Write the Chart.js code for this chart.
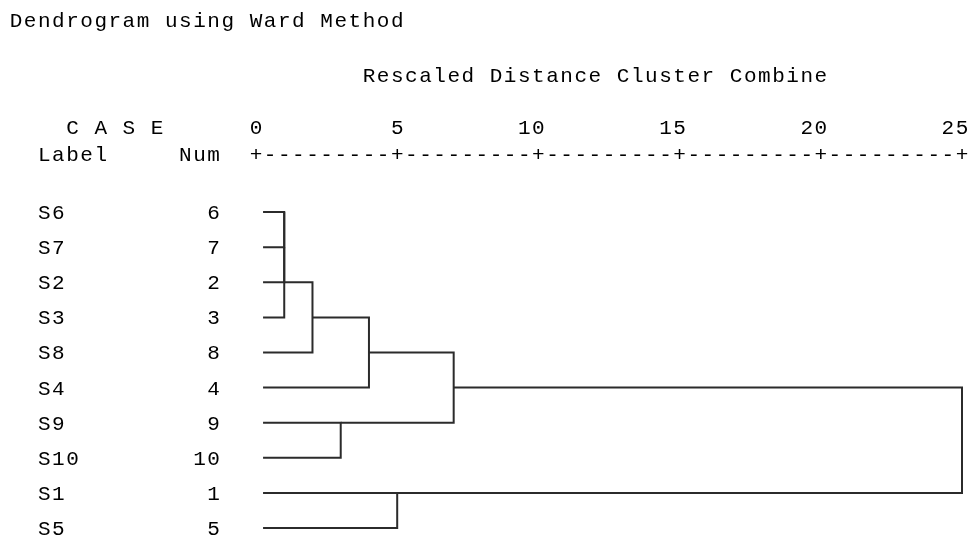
<!DOCTYPE html>
<html>
<head>
<meta charset="utf-8">
<script src="https://cdn.jsdelivr.net/npm/chart.js@4.4.1/dist/chart.umd.min.js"></script>
<style>
  html, body { margin: 0; padding: 0; background: #ffffff; }
  #wrap { width: 970px; height: 537px; }
</style>
</head>
<body>
<div id="wrap"><canvas id="dendro" width="970" height="537"></canvas></div>
<script>
// ---- data ---------------------------------------------------------------
const chartTitle = 'Dendrogram using Ward Method';
const axisTitle = 'Rescaled Distance Cluster Combine';
const caseHeader = 'C A S E';
const labelHeader = 'Label';
const numHeader = 'Num';

// cases in dendrogram order (top to bottom)
const caseLabels = ['S6', 'S7', 'S2', 'S3', 'S8', 'S4', 'S9', 'S10', 'S1', 'S5'];
const caseNums = [6, 7, 2, 3, 8, 4, 9, 10, 1, 5];

// agglomeration schedule: cluster (named by a member case) joined with
// another cluster at a rescaled distance
const joinA = [6, 6, 6, 6, 9, 6, 1, 6, 6];
const joinB = [7, 2, 3, 8, 10, 4, 5, 9, 1];
const joinDist = [1, 1, 1, 2, 3, 4, 5, 7, 25];

const tickValues = [0, 5, 10, 15, 20, 25];

// ---- build the tree segments -------------------------------------------
const LEAF_START = 0.25;          // leaf stubs start just right of zero
const LINE_COLOR = '#2b2b2b';

const clusters = {};
caseNums.forEach((n, i) => { clusters[n] = { row: i, h: LEAF_START }; });

const datasets = [];
joinA.forEach((a, k) => {
  const b = joinB[k];
  const A = clusters[a], B = clusters[b], d = joinDist[k];
  datasets.push({
    data: [
      { x: A.h, y: A.row },
      { x: d, y: A.row },
      { x: d, y: B.row },
      { x: B.h, y: B.row }
    ],
    showLine: true,
    borderColor: LINE_COLOR,
    borderWidth: 2,
    borderJoinStyle: 'miter',
    borderCapStyle: 'butt',
    pointRadius: 0,
    pointHoverRadius: 0,
    fill: false,
    tension: 0,
    clip: false
  });
  clusters[a] = { row: Math.floor((A.row + B.row) / 2), h: d };
  delete clusters[b];
});

// ---- fixed-pitch text layer --------------------------------------------
const FONT_SIZE = 21;
const FONT = FONT_SIZE + 'px "Liberation Mono", "DejaVu Sans Mono", monospace';
const TEXT_COLOR = '#000000';

const textLayer = {
  id: 'textLayer',
  afterDraw(chart) {
    const ctx = chart.ctx;
    const xs = chart.scales.x, ys = chart.scales.y;
    const x0 = xs.getPixelForValue(0);
    const xMax = xs.getPixelForValue(25);
    const cw = (xMax - x0) / 50;                 // one character cell
    const colLeft = c => x0 + (c - 17.5) * cw;   // column 17 is centred on zero

    ctx.save();
    ctx.font = FONT;
    ctx.fillStyle = TEXT_COLOR;
    ctx.textAlign = 'left';
    ctx.textBaseline = 'alphabetic';
    const adv = ctx.measureText('M').width;
    const pad = (cw - adv) / 2;
    if ('letterSpacing' in ctx) ctx.letterSpacing = (cw - adv) + 'px';

    const put = (str, col, base) => ctx.fillText(str, colLeft(col) + pad, base);
    const putRight = (str, lastCol, base) => put(str, lastCol - str.length + 1, base);

    put(chartTitle, 0, 27);
    put(axisTitle, 25, 82);
    put(caseHeader, 4, 134);
    put(labelHeader, 2, 161);
    put(numHeader, 12, 161);

    // tick labels: last digit sits over the tick mark
    tickValues.forEach(v => putRight(String(v), 17 + 2 * v, 134));

    // ruler line of ticks and dashes
    let ruler = '+';
    for (let i = 1; i < tickValues.length; i++) ruler += '---------+';
    put(ruler, 17, 161);

    // case rows
    caseLabels.forEach((lab, i) => {
      const y = ys.getPixelForValue(i) + 7;
      put(lab, 2, y);
      putRight(String(caseNums[i]), 14, y);
    });
    ctx.restore();
  }
};

new Chart(document.getElementById('dendro'), {
  type: 'scatter',
  data: { datasets },
  options: {
    responsive: false,
    animation: false,
    events: [],
    layout: { padding: { left: 256, right: 8, top: 177, bottom: 2 } },
    scales: {
      x: { type: 'linear', min: 0, max: 25, display: false },
      y: { type: 'linear', min: -1, max: 9.2, reverse: true, display: false }
    },
    plugins: {
      legend: { display: false },
      tooltip: { enabled: false },
      title: { display: false }
    }
  },
  plugins: [textLayer]
});
</script>
</body>
</html>
